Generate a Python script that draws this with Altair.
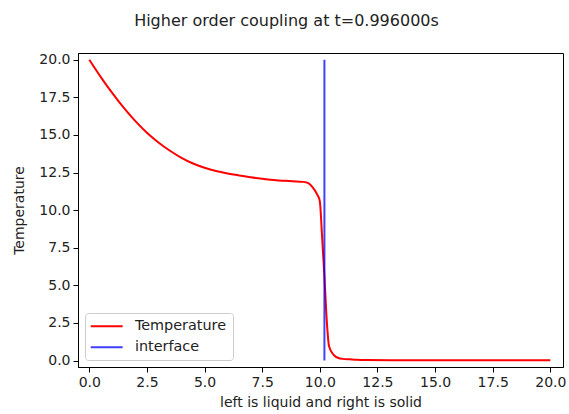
import altair as alt
import pandas as pd

chart_title = "Higher order coupling at t=0.996000s"
x_label = "left is liquid and right is solid"
y_label = "Temperature"

x_pos = [0.0, 0.5, 1.0, 1.5, 2.0, 2.5, 3.0, 3.5, 4.0, 4.5, 5.0, 5.5, 6.0, 6.5,
         7.0, 7.5, 8.0, 8.5, 9.0, 9.3, 9.5, 9.7, 9.9, 10.0, 10.1, 10.2, 10.3,
         10.4, 10.6, 10.8, 11.0, 11.3, 11.6, 12.0, 14.0, 16.0, 18.0, 20.0]
temperature = [20.0, 18.85, 17.78, 16.8, 15.92, 15.15, 14.5, 13.95, 13.48, 13.1,
               12.82, 12.6, 12.44, 12.31, 12.19, 12.09, 12.01, 11.95, 11.9,
               11.88, 11.8, 11.5, 11.0, 10.6, 8.2, 5.6, 2.7, 0.95, 0.38, 0.17,
               0.11, 0.08, 0.05, 0.03, 0.02, 0.02, 0.02, 0.02]

interface_x = [10.2]
interface_y0 = [0.0]
interface_y1 = [20.0]

series_names = ["Temperature", "interface"]
series_colors = ["#ff0000", "#0000ff"]
series_opacity = [1.0, 0.75]
tick_values = [0.0, 2.5, 5.0, 7.5, 10.0, 12.5, 15.0, 17.5, 20.0]

line_df = pd.DataFrame({"x": x_pos, "T": temperature, "series": "Temperature"})
rule_df = pd.DataFrame({"x": interface_x, "y": interface_y0, "y2": interface_y1,
                        "series": "interface"})

FONT = "DejaVu Sans"

xscale = alt.Scale(domain=[-0.49, 20.55], nice=False, zero=False)
yscale = alt.Scale(domain=[-0.43, 20.45], nice=False, zero=False)

legend = alt.Legend(
    title=None, orient="none", legendX=7, legendY=260,
    symbolType="M-3.55,0H3.55", symbolSize=81, symbolStrokeWidth=2,
    symbolOffset=8.5,
    labelFontSize=14.4, labelFont=FONT, labelColor="#222222",
    strokeColor="#cccccc", fillColor="white", cornerRadius=3,
    padding=6, rowPadding=6, labelOffset=21,
)

color = alt.Color("series:N", scale=alt.Scale(domain=series_names, range=series_colors),
                  legend=legend)
opacity = alt.Opacity("series:N", scale=alt.Scale(domain=series_names, range=series_opacity),
                      legend=None)

x_axis = alt.Axis(values=tick_values, format=".1f", title=x_label, labelFlush=False,
                  labelOverlap=False, titlePadding=6)
y_axis = alt.Axis(values=tick_values, format=".1f", title=y_label, labelOverlap=False,
                  titlePadding=12)

line = alt.Chart(line_df).mark_line(strokeWidth=2, interpolate="monotone").encode(
    x=alt.X("x:Q", scale=xscale, axis=x_axis),
    y=alt.Y("T:Q", scale=yscale, axis=y_axis),
    color=color,
    opacity=opacity,
)

rule = alt.Chart(rule_df).mark_rule(strokeWidth=2).encode(
    x=alt.X("x:Q", scale=xscale, axis=x_axis),
    y=alt.Y("y:Q", scale=yscale, axis=y_axis),
    y2="y2:Q",
    color=color,
    opacity=opacity,
)

chart = alt.layer(line, rule).properties(
    width=485, height=314,
    background="white",
    title=alt.TitleParams(chart_title, fontSize=16, font=FONT, fontWeight="normal",
                          anchor="middle", dx=-34, offset=24, color="#222222"),
    autosize=alt.AutoSizeParams(type="none"),
    padding={"left": 78, "top": 53, "right": 6, "bottom": 47},
).configure_view(stroke="black", strokeWidth=1).configure_axis(
    grid=False, domainColor="black", tickColor="black", tickSize=5,
    labelFontSize=14, labelFont=FONT, labelColor="#222222", labelPadding=3,
    titleFontSize=14, titleFont=FONT, titleFontWeight="normal", titleColor="#222222",
)

chart.save("out.html", embed_options={"renderer": "svg", "actions": False})
